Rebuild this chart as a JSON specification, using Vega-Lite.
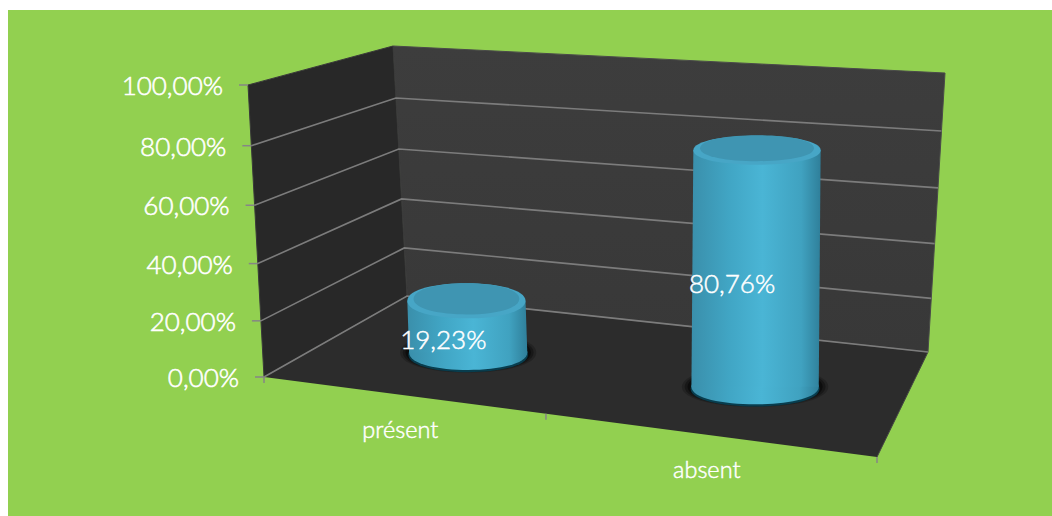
{
  "$schema": "https://vega.github.io/schema/vega-lite/v6.json",
  "width": 1044,
  "height": 506,
  "padding": {"left": 8, "top": 10, "right": 0, "bottom": 0},
  "autosize": "none",
  "background": "#ffffff",
  "view": {"fill": "#92D050", "stroke": null},
  "data": {"values": [
    {"kind": "bar", "category": "présent", "value": 19.23},
    {"kind": "bar", "category": "absent", "value": 80.76},
    {"kind": "cat", "category": "présent", "u": 0.25, "d": 0, "pct": 0},
    {"kind": "cat", "category": "absent", "u": 0.75, "d": 0, "pct": 0},
    {"kind": "face", "face": "back", "seq": 0, "u": 0, "d": 1, "pct": 0},
    {"kind": "face", "face": "back", "seq": 1, "u": 0, "d": 1, "pct": 100},
    {"kind": "face", "face": "back", "seq": 2, "u": 1, "d": 1, "pct": 100},
    {"kind": "face", "face": "back", "seq": 3, "u": 1, "d": 1, "pct": 0},
    {"kind": "face", "face": "left", "seq": 0, "u": 0, "d": 0, "pct": 0},
    {"kind": "face", "face": "left", "seq": 1, "u": 0, "d": 0, "pct": 100},
    {"kind": "face", "face": "left", "seq": 2, "u": 0, "d": 1, "pct": 100},
    {"kind": "face", "face": "left", "seq": 3, "u": 0, "d": 1, "pct": 0},
    {"kind": "face", "face": "floor", "seq": 0, "u": 0, "d": 0, "pct": 0},
    {"kind": "face", "face": "floor", "seq": 1, "u": 0, "d": 1, "pct": 0},
    {"kind": "face", "face": "floor", "seq": 2, "u": 1, "d": 1, "pct": 0},
    {"kind": "face", "face": "floor", "seq": 3, "u": 1, "d": 0, "pct": 0},
    {"kind": "grid", "seq": 0, "u": 0, "d": 0, "pct": 0},
    {"kind": "grid", "seq": 1, "u": 0, "d": 1, "pct": 0},
    {"kind": "grid", "seq": 2, "u": 1, "d": 1, "pct": 0},
    {"kind": "grid", "seq": 0, "u": 0, "d": 0, "pct": 20},
    {"kind": "grid", "seq": 1, "u": 0, "d": 1, "pct": 20},
    {"kind": "grid", "seq": 2, "u": 1, "d": 1, "pct": 20},
    {"kind": "grid", "seq": 0, "u": 0, "d": 0, "pct": 40},
    {"kind": "grid", "seq": 1, "u": 0, "d": 1, "pct": 40},
    {"kind": "grid", "seq": 2, "u": 1, "d": 1, "pct": 40},
    {"kind": "grid", "seq": 0, "u": 0, "d": 0, "pct": 60},
    {"kind": "grid", "seq": 1, "u": 0, "d": 1, "pct": 60},
    {"kind": "grid", "seq": 2, "u": 1, "d": 1, "pct": 60},
    {"kind": "grid", "seq": 0, "u": 0, "d": 0, "pct": 80},
    {"kind": "grid", "seq": 1, "u": 0, "d": 1, "pct": 80},
    {"kind": "grid", "seq": 2, "u": 1, "d": 1, "pct": 80},
    {"kind": "ytick", "u": 0, "d": 0, "pct": 0},
    {"kind": "ytick", "u": 0, "d": 0, "pct": 20},
    {"kind": "ytick", "u": 0, "d": 0, "pct": 40},
    {"kind": "ytick", "u": 0, "d": 0, "pct": 60},
    {"kind": "ytick", "u": 0, "d": 0, "pct": 80},
    {"kind": "ytick", "u": 0, "d": 0, "pct": 100},
    {"kind": "xtick", "u": 0, "d": 0, "pct": 0},
    {"kind": "xtick", "u": 0.46, "d": 0, "pct": 0},
    {"kind": "xtick", "u": 1, "d": 0, "pct": 0}
  ]},
  "transform": [
    {"calculate": "datum.kind === 'bar' ? ['top', 'base', 'mid'] : ['corner']", "as": "part"},
    {"flatten": ["part"]},
    {"calculate": "datum.kind === 'bar' ? (datum.category === 'présent' ? 0.234 : 0.74) : datum.u", "as": "a"},
    {"calculate": "datum.kind === 'bar' ? 0.5 : datum.d", "as": "b"},
    {"calculate": "datum.kind !== 'bar' ? datum.pct : (datum.part === 'top' ? datum.value : (datum.part === 'base' ? 0 : datum.value / 2))", "as": "c"},
    {"calculate": "(datum.c / 100) / (1.05 - 0.05 * datum.c / 100)", "as": "q"},
    {"calculate": "(1 - datum.b) * ((264 + 613 * datum.a) * (1 - datum.q) + (248 + 629 * datum.a) * datum.q) + datum.b * ((407 + 521 * datum.a) * (1 - datum.q) + (393 + 552 * datum.a) * datum.q)", "as": "sx"},
    {"calculate": "(1 - datum.b) * ((377 + 80 * datum.a) * (1 - datum.q) + (85 + 42 * datum.a) * datum.q) + datum.b * ((296 + 56 * datum.a) * (1 - datum.q) + (46 + 27 * datum.a) * datum.q)", "as": "sy"},
    {"calculate": "57 + 9 * datum.a", "as": "rx"},
    {"calculate": "min(17.5, 14.5 + (datum.sy - 150) * 0.02)", "as": "ry"},
    {"calculate": "'M' + (-datum.rx) + ' 0C' + (-datum.rx) + ' ' + (-datum.ry * 4 / 3) + ' ' + datum.rx + ' ' + (-datum.ry * 4 / 3) + ' ' + datum.rx + ' 0C' + datum.rx + ' ' + (datum.ry * 4 / 3) + ' ' + (-datum.rx) + ' ' + (datum.ry * 4 / 3) + ' ' + (-datum.rx) + ' 0Z'", "as": "ellipse"},
    {"calculate": "replace(format(datum.kind === 'bar' ? datum.value : datum.pct, '.2f'), '.', ',') + '%'", "as": "label"}
  ],
  "encoding": {
    "x": {"field": "sx", "type": "quantitative", "scale": {"domain": [8, 1052], "nice": false, "zero": false}, "axis": null},
    "y": {"field": "sy", "type": "quantitative", "scale": {"domain": [516, 10], "nice": false, "zero": false}, "axis": null}
  },
  "layer": [
    {
      "transform": [{"filter": "datum.face === 'back'"}],
      "mark": {"type": "line", "fill": {"gradient": "linear", "x1": 0, "y1": 0, "x2": 0, "y2": 1, "stops": [{"offset": 0, "color": "#3d3d3d"}, {"offset": 1, "color": "#383838"}]}, "stroke": "#4a4a4a", "strokeWidth": 1},
      "encoding": {"order": {"field": "seq", "type": "quantitative"}}
    },
    {
      "transform": [{"filter": "datum.face === 'left'"}],
      "mark": {"type": "line", "fill": "#282828", "stroke": "#3a3a3a", "strokeWidth": 1},
      "encoding": {"order": {"field": "seq", "type": "quantitative"}}
    },
    {
      "transform": [{"filter": "datum.face === 'floor'"}],
      "mark": {"type": "line", "fill": "#2c2c2c", "stroke": "#444444", "strokeWidth": 1},
      "encoding": {"order": {"field": "seq", "type": "quantitative"}}
    },
    {
      "transform": [{"filter": "datum.kind === 'grid'"}],
      "mark": {"type": "line", "stroke": "#7c7c7c", "strokeWidth": 1.6},
      "encoding": {
        "detail": {"field": "pct", "type": "nominal"},
        "order": {"field": "seq", "type": "quantitative"}
      }
    },
    {
      "transform": [{"filter": "datum.kind === 'ytick'"}, {"calculate": "datum.sx - 9", "as": "tickEnd"}],
      "mark": {"type": "rule", "stroke": "#868686", "strokeWidth": 1.5},
      "encoding": {"x2": {"field": "tickEnd"}}
    },
    {
      "transform": [{"filter": "datum.kind === 'xtick'"}, {"calculate": "datum.sy + 6", "as": "tickEnd"}],
      "mark": {"type": "rule", "stroke": "#868686", "strokeWidth": 1.5},
      "encoding": {"y2": {"field": "tickEnd"}}
    },
    {
      "transform": [{"filter": "datum.kind === 'ytick'"}, {"calculate": "datum.sx - 25", "as": "labelX"}],
      "mark": {"type": "text", "align": "right", "baseline": "middle", "font": "Lato", "fontWeight": 300, "fontSize": 26, "fill": "#ffffff", "stroke": "#ffffff", "strokeWidth": 0.6, "dy": 2},
      "encoding": {
        "x": {"field": "labelX", "type": "quantitative"},
        "text": {"field": "label"}
      }
    },
    {
      "transform": [{"filter": "datum.kind === 'cat'"}],
      "mark": {"type": "text", "align": "center", "baseline": "middle", "font": "Lato", "fontWeight": 300, "fontSize": 23.5, "fill": "#ffffff", "stroke": "#ffffff", "strokeWidth": 0.5, "dx": -17, "dy": 34},
      "encoding": {"text": {"field": "category"}}
    },
    {
      "transform": [{"filter": "datum.part === 'base'"}],
      "mark": {"type": "point", "filled": true, "fill": "#000000", "stroke": null, "opacity": 0.2, "size": 5.3},
      "encoding": {"shape": {"field": "ellipse", "type": "nominal", "scale": null, "legend": null}}
    },
    {
      "transform": [{"filter": "datum.part === 'base'"}],
      "mark": {"type": "point", "filled": true, "fill": "#000000", "stroke": null, "opacity": 0.3, "size": 4.9},
      "encoding": {"shape": {"field": "ellipse", "type": "nominal", "scale": null, "legend": null}}
    },
    {
      "transform": [{"filter": "datum.part === 'base'"}],
      "mark": {"type": "point", "filled": true, "fill": "#000000", "stroke": null, "opacity": 0.45, "size": 4.5},
      "encoding": {"shape": {"field": "ellipse", "type": "nominal", "scale": null, "legend": null}}
    },
    {
      "transform": [{"filter": "datum.part === 'base'"}],
      "mark": {"type": "point", "filled": true, "fill": "#083d4e", "stroke": null, "opacity": 1, "size": 4.1, "yOffset": 2},
      "encoding": {"shape": {"field": "ellipse", "type": "nominal", "scale": null, "legend": null}}
    },
    {
      "transform": [{"filter": "datum.part === 'base'"}],
      "mark": {"type": "point", "filled": true, "stroke": null, "opacity": 1, "size": 4, "fill": {"gradient": "linear", "x1": 0, "y1": 0, "x2": 1, "y2": 0, "stops": [{"offset": 0, "color": "#3a8fab"}, {"offset": 0.3, "color": "#41a6c5"}, {"offset": 0.55, "color": "#4ab5d5"}, {"offset": 0.85, "color": "#40a2c0"}, {"offset": 1, "color": "#2f7f9a"}]}},
      "encoding": {"shape": {"field": "ellipse", "type": "nominal", "scale": null, "legend": null}}
    },
    {
      "transform": [
        {"filter": "datum.part !== 'mid' && datum.kind === 'bar'"},
        {"calculate": "[-1, 1]", "as": "side"},
        {"flatten": ["side"]},
        {"calculate": "datum.sx + datum.side * datum.rx", "as": "edgeX"},
        {"calculate": "datum.part === 'top' ? (datum.side < 0 ? 0 : 1) : (datum.side > 0 ? 2 : 3)", "as": "seq"}
      ],
      "mark": {"type": "line", "strokeWidth": 0, "fill": {"gradient": "linear", "x1": 0, "y1": 0, "x2": 1, "y2": 0, "stops": [{"offset": 0, "color": "#3a8fab"}, {"offset": 0.3, "color": "#41a6c5"}, {"offset": 0.55, "color": "#4ab5d5"}, {"offset": 0.85, "color": "#40a2c0"}, {"offset": 1, "color": "#2f7f9a"}]}},
      "encoding": {
        "x": {"field": "edgeX", "type": "quantitative"},
        "detail": {"field": "category", "type": "nominal"},
        "order": {"field": "seq", "type": "quantitative"}
      }
    },
    {
      "transform": [{"filter": "datum.part === 'top'"}],
      "mark": {"type": "point", "filled": true, "fill": "#47a6c6", "stroke": null, "opacity": 1, "size": 4},
      "encoding": {"shape": {"field": "ellipse", "type": "nominal", "scale": null, "legend": null}}
    },
    {
      "transform": [{"filter": "datum.part === 'top'"}],
      "mark": {"type": "point", "filled": true, "fill": "#3f95b2", "stroke": null, "opacity": 1, "size": 3.2, "yOffset": -2},
      "encoding": {"shape": {"field": "ellipse", "type": "nominal", "scale": null, "legend": null}}
    },
    {
      "transform": [{"filter": "datum.part === 'mid'"}],
      "mark": {"type": "text", "align": "center", "baseline": "middle", "font": "Lato", "fontWeight": 300, "fontSize": 26, "fill": "#ffffff", "stroke": "#ffffff", "strokeWidth": 0.5, "dx": -24, "dy": 14},
      "encoding": {"text": {"field": "label"}}
    }
  ]
}
